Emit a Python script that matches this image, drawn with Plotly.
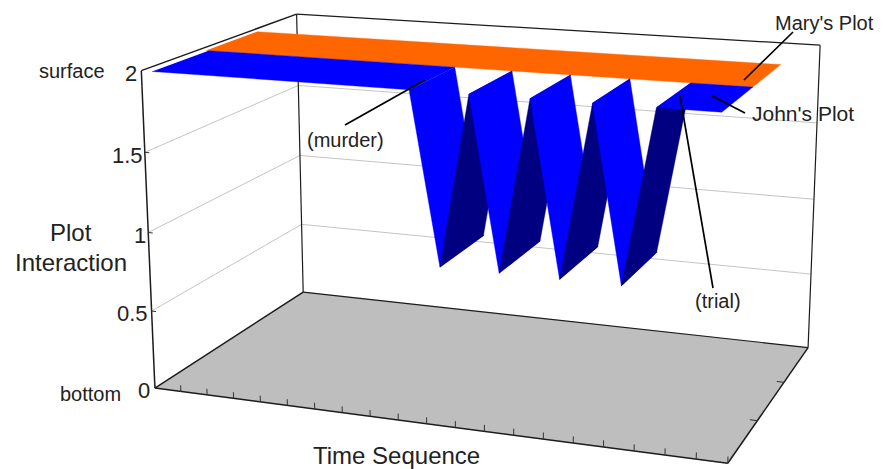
import numpy as np
import plotly.graph_objects as go

W, H = 885, 469
PAGE_MARGIN = 8   # the browser's default body margin around the figure

# ---- data -----------------------------------------------------------
time_points = [0.4, 9.5, 10.5, 11.5, 12.5, 13.5, 14.5, 15.5, 16.5, 17.5, 19.5]
john_level = [2, 2, 0.97, 2, 0.97, 2, 0.97, 2, 0.97, 2, 2]
mary_time = [0.3, 19.5]
mary_level = [2, 2]
john_depth = [0, 1]
mary_depth = [1, 2]
time_ticks = list(range(0, 21))
depth_ticks = [1, 2]
level_ticks = [0.5, 1, 1.5]
level_gridlines = [0.5, 1, 1.5]
level_labels = ["0", "0.5", "1", "1.5", "2"]
TIME_MAX, DEPTH_MAX, LEVEL_MAX = 20, 3, 2

# ---- view: the reference's perspective camera, solved from where the
# corners of the 3D box sit in the 885x469 picture
box_ref = [(0,0,0),(0,0,2),(0,3,2),(0,3,0),(20,0,0),(20,3,0),(20,3,2)]
img_ref = [(155,388),(141,71),(297,14),(303,292),(728,463),(808,348),(820,45)]
rows = []
for (a, b, c), (u, v) in zip(box_ref, img_ref):
    rows.append([a, b, c, 1, 0, 0, 0, 0, -u*a, -u*b, -u*c, -u])
    rows.append([0, 0, 0, 0, a, b, c, 1, -v*a, -v*b, -v*c, -v])
CAM = np.linalg.svd(np.array(rows, float))[2][-1].reshape(3, 4)

def view(pts):
    p = np.c_[np.array(pts, float), np.ones(len(pts))] @ CAM.T
    return p[:, 0]/p[:, 2], p[:, 1]/p[:, 2]

fig = go.Figure()

def line3(pts, color, width):
    x, y = view(pts)
    fig.add_trace(go.Scatter(x=x, y=y, mode="lines", line=dict(color=color, width=width), hoverinfo="skip"))

def face(pts, color):
    x, y = view(pts)
    fig.add_trace(go.Scatter(x=x, y=y, mode="lines", fill="toself", fillcolor=color,
                             line=dict(color=color, width=0.4), hoverinfo="skip"))

BLACK = "#1c1c1c"
GRID = "#c4c4c4"
T, D, L = TIME_MAX, DEPTH_MAX, LEVEL_MAX

# floor
face([(0,0,0),(T,0,0),(T,D,0),(0,D,0),(0,0,0)], "#bebebe")
# gridlines on the left and back walls
for z in level_gridlines:
    line3([(0,0,z),(0,D,z),(T,D,z)], GRID, 1)
# back box edges
line3([(0,D,0),(0,D,L)], BLACK, 1.2)
line3([(0,D,L),(T,D,L)], BLACK, 1.2)
line3([(T,D,0),(T,D,L)], BLACK, 1.2)
line3([(0,D,0),(T,D,0)], BLACK, 1.2)

# Mary's ribbon
face([(mary_time[0],mary_depth[0],mary_level[0]),(mary_time[1],mary_depth[0],mary_level[1]),
      (mary_time[1],mary_depth[1],mary_level[1]),(mary_time[0],mary_depth[1],mary_level[0])], "#ff6600")
# John's ribbon, facet by facet from the far end forward
for i in range(len(time_points)-1):
    t0, t1, z0, z1 = time_points[i], time_points[i+1], john_level[i], john_level[i+1]
    face([(t0,john_depth[0],z0),(t1,john_depth[0],z1),(t1,john_depth[1],z1),(t0,john_depth[1],z0)],
         "#000080" if z1 > z0 else "#0000ff")

# front box edges
line3([(0,0,0),(T,0,0)], BLACK, 1.5)
line3([(0,0,0),(0,D,0)], BLACK, 1.5)
line3([(T,0,0),(T,D,0)], BLACK, 1.5)
line3([(0,0,0),(0,0,L)], BLACK, 1.5)
line3([(0,0,L),(0,D,L)], BLACK, 1.5)
# ticks
for t in time_ticks:
    line3([(t,0,0),(t,0,0.04)], "#333333", 1)
for d in depth_ticks:
    line3([(T,d,0),(T-0.25,d,0)], "#333333", 1)
for z in level_ticks:
    line3([(0,0,z),(0.17,0,z)], "#333333", 1)

# leader lines
for x0, y0, x1, y1 in [(345,125,425,80),(680,96,713,288),(712,96,745,113),(744,80,793,32)]:
    fig.add_shape(type="line", xref="x", yref="y", x0=x0, y0=y0, x1=x1, y1=y1,
                  line=dict(color="black", width=1.7))

# text
FONT = "Liberation Sans"
TXT = "#222222"
def text(s, x, y, size):
    fig.add_annotation(text=s, x=x, y=y, xref="x", yref="y", showarrow=False,
                       font=dict(family=FONT, size=size, color=TXT))
for s, x, y in zip(level_labels, [144,132,140,127,131], [390,313,235,155,73]):
    text(s, x, y, 22)
text("surface", 72, 71, 20)
text("bottom", 90, 394, 20)
text("Plot", 71, 232, 24)
text("Interaction", 71, 262, 24)
text("Time Sequence", 396, 455, 24)
text("(murder)", 345, 140, 20)
text("(trial)", 718, 301, 20)
text("John's Plot", 803, 113, 21)
text("Mary's Plot", 824, 23, 20)

fig.update_layout(width=W-PAGE_MARGIN, height=H-PAGE_MARGIN, margin=dict(l=0, r=0, t=0, b=0), showlegend=False,
                  paper_bgcolor="white", plot_bgcolor="white",
                  xaxis=dict(range=[PAGE_MARGIN, W], visible=False, fixedrange=True),
                  yaxis=dict(range=[H, PAGE_MARGIN], visible=False, fixedrange=True))
fig.write_html("out.html")
